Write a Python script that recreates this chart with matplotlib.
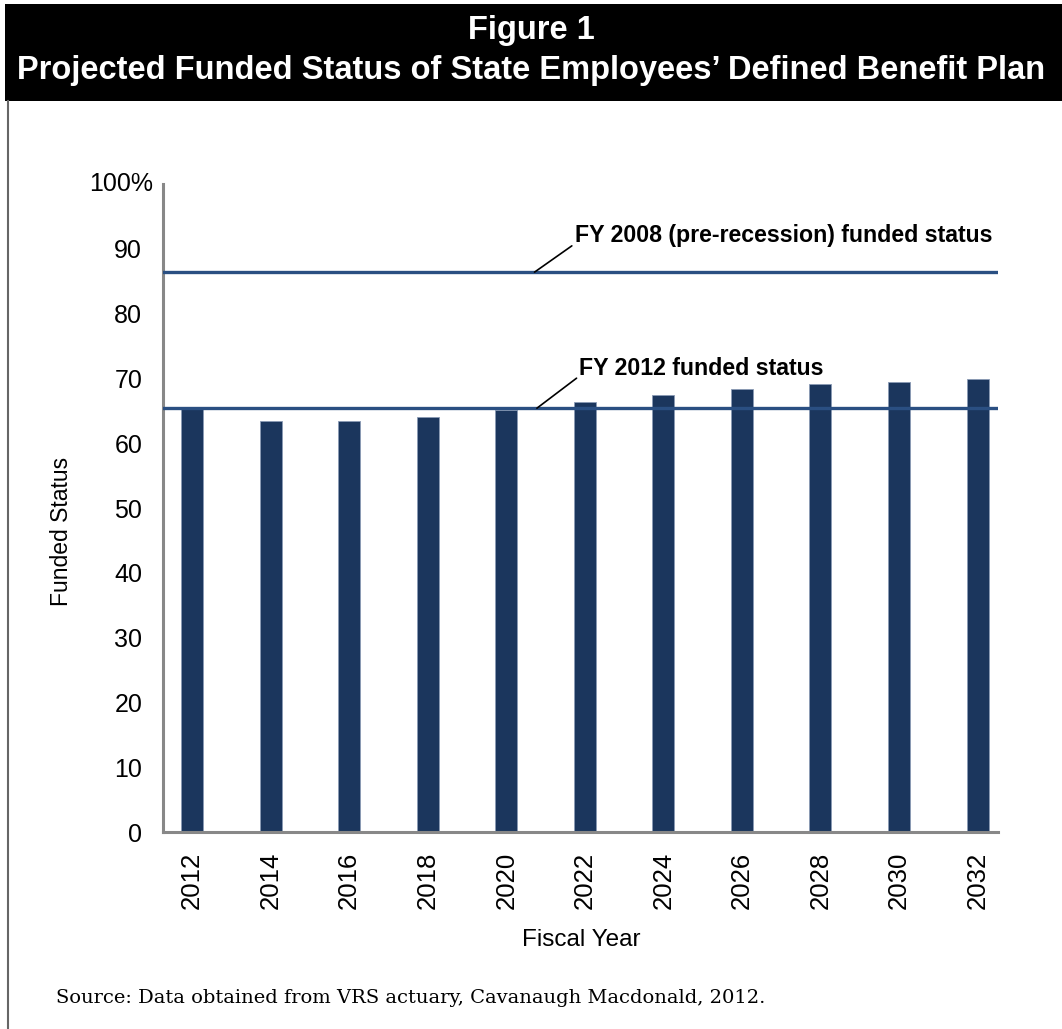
import numpy as np
import matplotlib.pyplot as plt
from matplotlib.patches import Rectangle
from matplotlib.lines import Line2D

# data
years = ['2012', '2014', '2016', '2018', '2020', '2022', '2024', '2026', '2028', '2030', '2032']
funded = [65.4, 63.4, 63.4, 64.0, 65.2, 66.4, 67.5, 68.3, 69.1, 69.5, 69.9]
fy2008_status = 86.4
fy2012_status = 65.4
yticks = [0, 10, 20, 30, 40, 50, 60, 70, 80, 90, 100]
ytick_labels = ['0', '10', '20', '30', '40', '50', '60', '70', '80', '90', '']

W, H = 1062, 1029
fig = plt.figure(figsize=(W / 100, H / 100), dpi=100)
plt.rcParams['font.family'] = ['Liberation Sans', 'DejaVu Sans']

def fx(px):
    return px / W

def fy(py):
    return 1 - py / H

# header box + left border
fig.patches.append(Rectangle((fx(5), fy(101)), fx(1062) - fx(5), fy(4) - fy(101),
                             transform=fig.transFigure, facecolor='black', edgecolor='none'))
fig.lines.append(Line2D([fx(8), fx(8)], [fy(101), 0], transform=fig.transFigure,
                        color='#666666', lw=1.5))
fig.text(0.5, fy(31), 'Figure 1', color='white', fontsize=23.5, fontweight='bold',
         ha='center', va='center')
fig.text(0.5, fy(71), 'Projected Funded Status of State Employees\u2019 Defined Benefit Plan',
         color='white', fontsize=23.5, fontweight='bold', ha='center', va='center')

ax = fig.add_axes([fx(163), fy(832), fx(998) - fx(163), fy(184) - fy(832)])
x = np.arange(len(years))
ax.bar(x, funded, width=0.28, color='#1b365d', edgecolor='#8a9ab5', linewidth=0.6, zorder=2)
ax.axhline(fy2008_status, color='#2a4f82', lw=2.4, zorder=3)
ax.axhline(fy2012_status, color='#2a4f82', lw=2.4, zorder=3)

ax.set_xlim(-0.37, 10.26)
ax.set_ylim(0, 100)
ax.set_xticks(x)
ax.set_xticklabels(years, rotation=90, fontsize=18.5)
ax.set_yticks(yticks)
ax.set_yticklabels(ytick_labels, fontsize=18)
ax.tick_params(axis='both', length=0)
ax.tick_params(axis='y', pad=15)
ax.tick_params(axis='x', pad=14)
for s in ['top', 'right']:
    ax.spines[s].set_visible(False)
for s in ['left', 'bottom']:
    ax.spines[s].set_color('#888888')
    ax.spines[s].set_linewidth(2.2)

ax.text(-0.012, 1.0, '100%', transform=ax.transAxes, fontsize=18, ha='right', va='center')

fig.text(fx(62), fy(531), 'Funded Status', fontsize=16.5, rotation=90, ha='center', va='center')
fig.text(fx(581), fy(940), 'Fiscal Year', fontsize=17.5, ha='center', va='center')

# annotations with leader lines
ax.annotate('FY 2008 (pre-recession) funded status', xy=(4.36, fy2008_status),
            xytext=(4.87, 92.0), fontsize=16.7, fontweight='bold', va='center', ha='left',
            arrowprops=dict(arrowstyle='-', color='black', lw=1.2, shrinkA=0, shrinkB=0,
                            relpos=(0, 0.15)))
ax.annotate('FY 2012 funded status', xy=(4.39, fy2012_status),
            xytext=(4.93, 71.6), fontsize=16.7, fontweight='bold', va='center', ha='left',
            arrowprops=dict(arrowstyle='-', color='black', lw=1.2, shrinkA=0, shrinkB=0,
                            relpos=(0, 0.15)))

fig.text(fx(56), fy(1003), 'Source: Data obtained from VRS actuary, Cavanaugh Macdonald, 2012.',
         fontsize=14, family='DejaVu Serif', ha='left', va='baseline')

fig.savefig('out.png', dpi=100)
